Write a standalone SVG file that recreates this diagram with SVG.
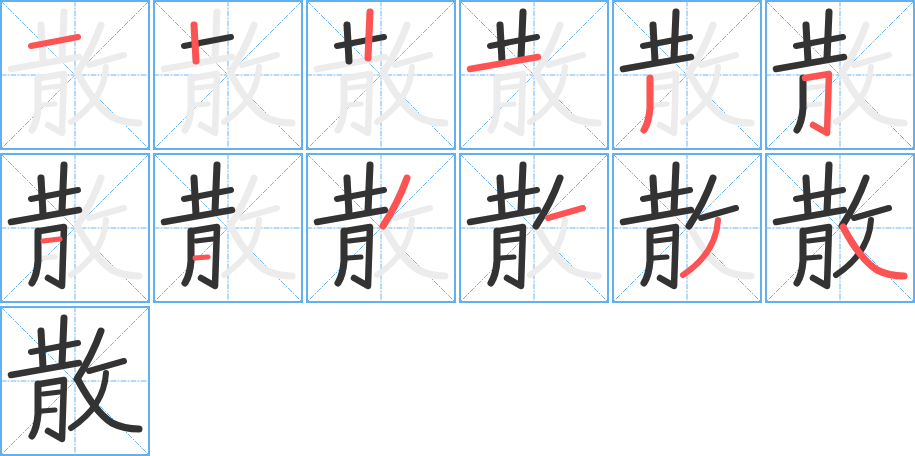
<svg xmlns="http://www.w3.org/2000/svg" xmlns:xlink="http://www.w3.org/1999/xlink" width="915" height="456" viewBox="0 0 915 456">
<style>
.frame{fill:#fff;stroke:#62b0ef;stroke-width:2}
.guide{stroke:#6ab6f2;stroke-width:1;stroke-dasharray:5 2 1 2;fill:none}
.g{stroke:#ececec;fill:none}
.b{stroke:#333;fill:none}
.r{stroke:#fd5353;fill:none}
path{stroke-linecap:round;stroke-linejoin:round}
</style>
<defs>
<g id="cell">
<rect class="frame" x="1" y="1" width="148" height="148"/>
<path class="guide" d="M1,75 H149 M75,1 V149 M1,1 L149,149 M149,1 L1,149"/>
</g>
<path id="s1" stroke-width="6" d="M31,46 L78,37"/>
<path id="s2" stroke-width="7" d="M41,25 L43,61"/>
<path id="s3" stroke-width="7" d="M64,12 L62,58"/>
<path id="s4" stroke-width="6.5" d="M11,69 L79,57"/>
<path id="s5" stroke-width="7" d="M38,78 L38,108 Q37,122 32,130"/>
<path id="s6" stroke-width="6.5" d="M40,78 L64,74 L62,133 L48,125"/>
<path id="s7" stroke-width="5" d="M43,88 L60,86"/>
<path id="s8" stroke-width="5" d="M42,105 L55,104"/>
<path id="s9" stroke-width="7" d="M101,25 Q92,50 77,73"/>
<path id="s10" stroke-width="6" d="M89,65 L124,55"/>
<path id="s11" stroke-width="6" d="M106,67 Q104,100 71,122"/>
<path id="s12" stroke-width="7" d="M78,74 Q95,106 112,117 Q124,123 139,123"/>
<g id="all">
<use href="#s1"/><use href="#s2"/><use href="#s3"/><use href="#s4"/><use href="#s5"/><use href="#s6"/>
<use href="#s7"/><use href="#s8"/><use href="#s9"/><use href="#s10"/><use href="#s11"/><use href="#s12"/>
</g>
</defs>

<g id="step1" transform="translate(0,0)">
<use href="#cell"/><use href="#all" class="g"/>
<use href="#s1" class="r"/>
</g>
<g id="step2" transform="translate(153,0)">
<use href="#cell"/><use href="#all" class="g"/>
<g class="b"><use href="#s1"/></g>
<use href="#s2" class="r"/>
</g>
<g id="step3" transform="translate(306,0)">
<use href="#cell"/><use href="#all" class="g"/>
<g class="b"><use href="#s1"/><use href="#s2"/></g>
<use href="#s3" class="r"/>
</g>
<g id="step4" transform="translate(459,0)">
<use href="#cell"/><use href="#all" class="g"/>
<g class="b"><use href="#s1"/><use href="#s2"/><use href="#s3"/></g>
<use href="#s4" class="r"/>
</g>
<g id="step5" transform="translate(612,0)">
<use href="#cell"/><use href="#all" class="g"/>
<g class="b"><use href="#s1"/><use href="#s2"/><use href="#s3"/><use href="#s4"/></g>
<use href="#s5" class="r"/>
</g>
<g id="step6" transform="translate(765,0)">
<use href="#cell"/><use href="#all" class="g"/>
<g class="b"><use href="#s1"/><use href="#s2"/><use href="#s3"/><use href="#s4"/><use href="#s5"/></g>
<use href="#s6" class="r"/>
</g>
<g id="step7" transform="translate(0,153)">
<use href="#cell"/><use href="#all" class="g"/>
<g class="b"><use href="#s1"/><use href="#s2"/><use href="#s3"/><use href="#s4"/><use href="#s5"/><use href="#s6"/></g>
<use href="#s7" class="r"/>
</g>
<g id="step8" transform="translate(153,153)">
<use href="#cell"/><use href="#all" class="g"/>
<g class="b"><use href="#s1"/><use href="#s2"/><use href="#s3"/><use href="#s4"/><use href="#s5"/><use href="#s6"/><use href="#s7"/></g>
<use href="#s8" class="r"/>
</g>
<g id="step9" transform="translate(306,153)">
<use href="#cell"/><use href="#all" class="g"/>
<g class="b"><use href="#s1"/><use href="#s2"/><use href="#s3"/><use href="#s4"/><use href="#s5"/><use href="#s6"/><use href="#s7"/><use href="#s8"/></g>
<use href="#s9" class="r"/>
</g>
<g id="step10" transform="translate(459,153)">
<use href="#cell"/><use href="#all" class="g"/>
<g class="b"><use href="#s1"/><use href="#s2"/><use href="#s3"/><use href="#s4"/><use href="#s5"/><use href="#s6"/><use href="#s7"/><use href="#s8"/><use href="#s9"/></g>
<use href="#s10" class="r"/>
</g>
<g id="step11" transform="translate(612,153)">
<use href="#cell"/><use href="#all" class="g"/>
<g class="b"><use href="#s1"/><use href="#s2"/><use href="#s3"/><use href="#s4"/><use href="#s5"/><use href="#s6"/><use href="#s7"/><use href="#s8"/><use href="#s9"/><use href="#s10"/></g>
<use href="#s11" class="r"/>
</g>
<g id="step12" transform="translate(765,153)">
<use href="#cell"/><use href="#all" class="g"/>
<g class="b"><use href="#s1"/><use href="#s2"/><use href="#s3"/><use href="#s4"/><use href="#s5"/><use href="#s6"/><use href="#s7"/><use href="#s8"/><use href="#s9"/><use href="#s10"/><use href="#s11"/></g>
<use href="#s12" class="r"/>
</g>
<g id="step13" transform="translate(0,306)">
<use href="#cell"/>
<use href="#all" class="b"/>
</g>
</svg>
